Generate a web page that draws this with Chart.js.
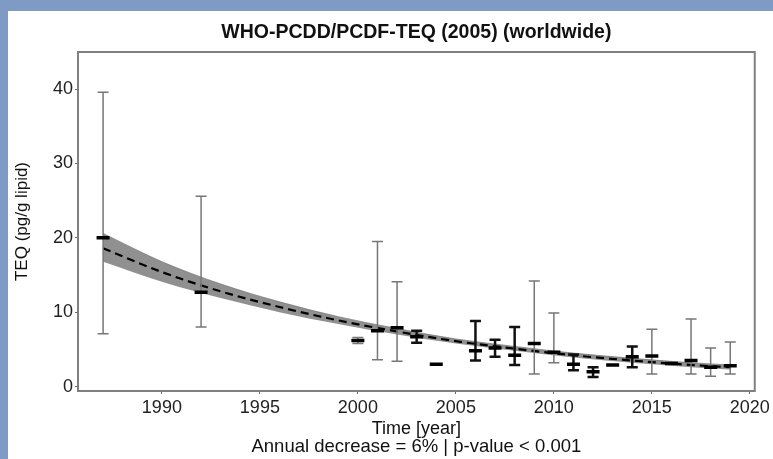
<!DOCTYPE html>
<html>
<head>
<meta charset="utf-8">
<script src="https://cdn.jsdelivr.net/npm/chart.js@4.4.0/dist/chart.umd.min.js"></script>
<style>
    html, body { margin: 0; padding: 0; }
    body { width: 773px; height: 459px; background: #7f9ac4; position: relative; overflow: hidden; }
    #wrap { position: absolute; left: 8px; top: 11px; width: 765px; height: 448px; background: #fff; }
</style>
</head>
<body>
<div id="wrap"><canvas id="teqChart" width="765" height="448"></canvas></div>
<script>
// measured years with mean and range (pg/g lipid)
const years = [1987, 1992, 2000, 2001, 2002, 2003, 2004, 2006, 2007, 2008, 2009, 2010, 2011, 2012, 2013, 2014, 2015, 2016, 2017, 2018, 2019];
const means = [20.0, 12.7, 6.2, 7.5, 7.9, 6.7, 3.0, 4.8, 5.2, 4.2, 5.8, 4.6, 3.0, 2.0, 2.9, 4.0, 4.1, 3.1, 3.5, 2.6, 2.8];
const lows  = [7.1, 8.0, 5.8, 3.6, 3.4, 5.9, null, 3.5, 4.0, 2.9, 1.7, 3.2, 2.2, 1.3, null, 2.6, 1.7, null, 1.7, 1.4, 1.7];
const highs = [39.6, 25.6, 6.6, 19.5, 14.1, 7.5, null, 8.8, 6.3, 8.0, 14.2, 9.9, 4.3, 2.6, null, 5.4, 7.7, null, 9.1, 5.2, 6.0];

// fitted trend and its confidence band
const fitYears = [1987, 1990, 1993, 1996, 1999, 2002, 2005, 2008, 2011, 2014, 2017, 2019];
const fitMid   = [18.6, 15.4, 12.8, 10.7, 8.9, 7.4, 6.1, 5.1, 4.2, 3.5, 2.9, 2.6];
const fitLow   = [16.8, 14.1, 11.9, 10.0, 8.4, 7.0, 5.8, 4.8, 3.9, 3.2, 2.6, 2.3];
const fitHigh  = [20.6, 16.8, 13.8, 11.4, 9.4, 7.8, 6.4, 5.4, 4.5, 3.8, 3.2, 2.9];

const xTicks = [1990, 1995, 2000, 2005, 2010, 2015, 2020];
const yTicks = [0, 10, 20, 30, 40];

// years whose range is drawn as a heavy black bar
const darkBarYears = [2003, 2006, 2007, 2008, 2011, 2012, 2014];

const toPoints = (xs, ys) => xs.map((x, i) => ({ x: x, y: ys[i] }));

// whiskers go under the mean markers (dataset with order 0)
const errorBars = {
    id: 'errorBars',
    beforeDatasetDraw(chart, args) {
        if (args.index !== 3) return;
        const ctx = chart.ctx;
        const xs = chart.scales.x, ys = chart.scales.y;
        ctx.save();
        years.forEach((yr, i) => {
            if (lows[i] === null) return;
            const dark = darkBarYears.includes(yr);
            const px = xs.getPixelForValue(yr);
            const top = ys.getPixelForValue(highs[i]);
            const bot = ys.getPixelForValue(lows[i]);
            ctx.strokeStyle = dark ? '#111' : '#777';
            ctx.lineWidth = dark ? 2.5 : 1.5;
            ctx.beginPath();
            ctx.moveTo(px, top); ctx.lineTo(px, bot);
            ctx.moveTo(px - 5.5, top); ctx.lineTo(px + 5.5, top);
            ctx.moveTo(px - 5.5, bot); ctx.lineTo(px + 5.5, bot);
            ctx.stroke();
        });
        ctx.restore();
    }
};

const plotBox = {
    id: 'plotBox',
    afterDraw(chart) {
        const a = chart.chartArea, ctx = chart.ctx;
        ctx.save();
        ctx.strokeStyle = '#808080';
        ctx.lineWidth = 2;
        ctx.strokeRect(a.left, a.top, a.right - a.left, a.bottom - a.top);
        ctx.restore();
    }
};

const font = (size, extra) => Object.assign({ family: 'Liberation Sans', size: size }, extra || {});

new Chart(document.getElementById('teqChart'), {
    type: 'scatter',
    data: {
        datasets: [
            {
                data: toPoints(fitYears, fitLow),
                order: 3,
                showLine: true,
                borderWidth: 0,
                pointRadius: 0,
                cubicInterpolationMode: 'monotone',
                fill: false
            },
            {
                data: toPoints(fitYears, fitHigh),
                order: 2,
                showLine: true,
                borderColor: 'rgba(100,100,100,0.6)',
                borderWidth: 1,
                pointRadius: 0,
                cubicInterpolationMode: 'monotone',
                backgroundColor: 'rgba(125,125,125,0.85)',
                fill: '-1'
            },
            {
                data: toPoints(fitYears, fitMid),
                order: 1,
                showLine: true,
                borderColor: '#000',
                borderWidth: 2.2,
                borderDash: [8, 5],
                pointRadius: 0,
                cubicInterpolationMode: 'monotone',
                fill: false
            },
            {
                data: toPoints(years, means),
                order: 0,
                pointStyle: 'line',
                pointRadius: 6.5,
                pointBorderWidth: 3.5,
                pointBorderColor: '#000',
                pointHoverRadius: 6.5
            }
        ]
    },
    options: {
        responsive: false,
        animation: false,
        events: [],
        layout: { padding: { left: 0, right: 17, top: 0, bottom: 2.5 } },
        plugins: {
            legend: { display: false },
            tooltip: { enabled: false },
            title: {
                display: true,
                fullSize: false,
                text: 'WHO-PCDD/PCDF-TEQ (2005) (worldwide)',
                color: '#111',
                font: font(19.5, { weight: 'bold', lineHeight: 1.2 }),
                padding: { top: 10, bottom: 7.6 }
            },
            subtitle: {
                display: true,
                fullSize: false,
                position: 'bottom',
                text: 'Annual decrease = 6% | p-value < 0.001',
                color: '#111',
                font: font(18.5, { lineHeight: 1 }),
                padding: 0
            }
        },
        scales: {
            x: {
                type: 'linear',
                min: 1985.72,
                max: 2020.25,
                afterBuildTicks: (axis) => { axis.ticks = xTicks.map(v => ({ value: v })); },
                afterFit: (axis) => { axis.height = 47; },
                border: { display: false },
                grid: { drawOnChartArea: false, tickLength: 3, color: '#666' },
                ticks: {
                    padding: 3,
                    color: '#222',
                    font: font(18),
                    callback: (value) => String(value)
                },
                title: {
                    display: true,
                    text: 'Time [year]',
                    color: '#111',
                    font: font(18, { lineHeight: 1 }),
                    padding: 0
                }
            },
            y: {
                min: -0.6,
                max: 45,
                afterBuildTicks: (axis) => { axis.ticks = yTicks.map(v => ({ value: v })); },
                afterFit: (axis) => { axis.width = 70; },
                border: { display: false },
                grid: { drawOnChartArea: false, tickLength: 3, color: '#666' },
                ticks: {
                    padding: 2,
                    color: '#222',
                    font: font(18),
                    callback: (value) => String(value)
                },
                title: {
                    display: true,
                    text: 'TEQ (pg/g lipid)',
                    color: '#111',
                    font: font(17, { lineHeight: 1 }),
                    padding: { top: 6 }
                }
            }
        }
    },
    plugins: [errorBars, plotBox]
});
</script>
</body>
</html>
